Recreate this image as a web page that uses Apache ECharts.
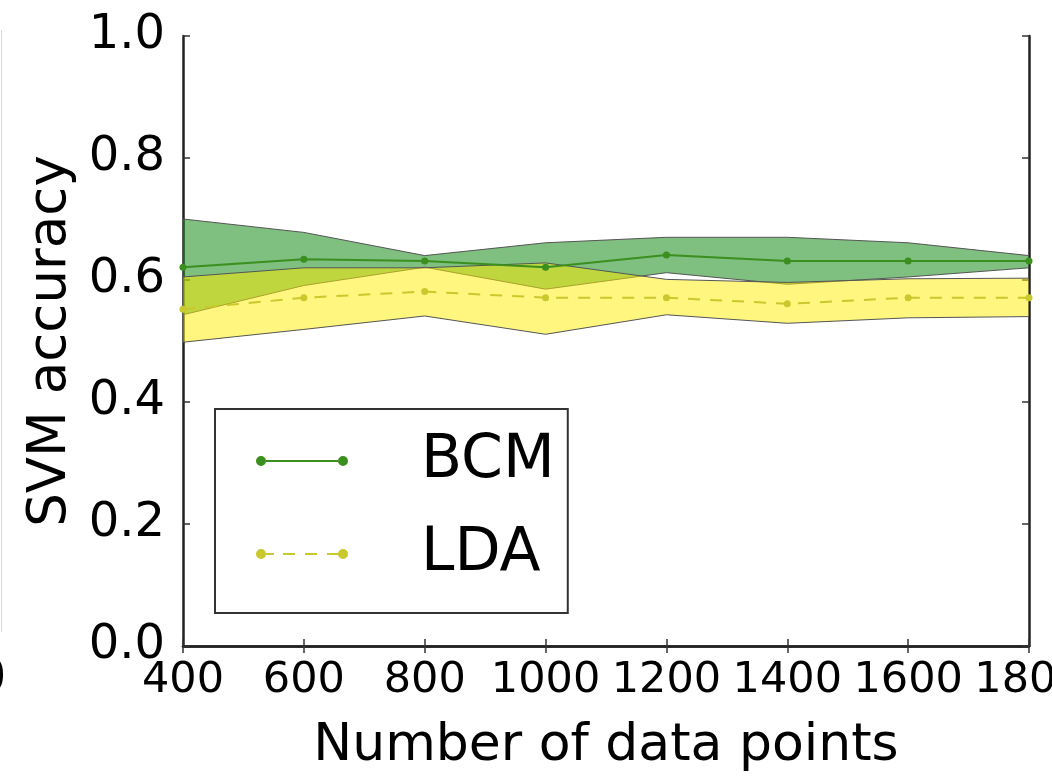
<!DOCTYPE html>
<html><head><meta charset="utf-8">
<script src="https://cdn.jsdelivr.net/npm/echarts@6/dist/echarts.min.js"></script>
<style>html,body{margin:0;padding:0;background:#fff}#c{width:1052px;height:778px}</style>
</head><body><div id="c"></div>
<script>
const xValues = [400, 600, 800, 1000, 1200, 1400, 1600, 1800];
const xTicks = [400, 600, 800, 1000, 1200, 1400, 1600, 1800];
const yTicks = [0.0, 0.2, 0.4, 0.6, 0.8, 1.0];
const bcmMean  = [0.621, 0.634, 0.631, 0.621, 0.641, 0.631, 0.631, 0.631];
const bcmUpper = [0.700, 0.678, 0.640, 0.661, 0.670, 0.670, 0.661, 0.640];
const bcmLower = [0.543, 0.591, 0.621, 0.585, 0.612, 0.593, 0.605, 0.620];
const ldaMean  = [0.552, 0.571, 0.581, 0.571, 0.571, 0.561, 0.571, 0.571];
const ldaUpper = [0.605, 0.620, 0.620, 0.628, 0.601, 0.596, 0.602, 0.603];
const ldaLower = [0.498, 0.519, 0.541, 0.511, 0.543, 0.529, 0.538, 0.540];
const seriesNames = ['BCM', 'LDA'];

const FONT = 'DejaVu Sans';
const BCM_COLOR = '#3a8f1e';
const LDA_COLOR = '#c9c82c';
const EDGE = '#555555';

const pairs = (ys) => xValues.map((x, i) => [x, ys[i]]);
const bandData = (up, lo) => xValues.map((x, i) => [x, lo[i], up[i]]);

const iconBCM = 'path://M0,5a5,5 0 1,0 10,0a5,5 0 1,0 -10,0Z M82,5a5,5 0 1,0 10,0a5,5 0 1,0 -10,0Z M10,4H82V6H10Z';
const iconLDA = 'path://M0,5a5,5 0 1,0 10,0a5,5 0 1,0 -10,0Z M82,5a5,5 0 1,0 10,0a5,5 0 1,0 -10,0Z M10,4H18V6H10Z M27,4H39V6H27Z M49,4H61V6H49Z M71,4H82V6H71Z';

function bandRenderer(fill) {
  return function (params, api) {
    if (params.dataIndex !== 0) return null;
    const n = xValues.length;
    const top = [], bottom = [];
    for (let i = 0; i < n; i++) {
      const x = api.value(0, i), lo = api.value(1, i), up = api.value(2, i);
      top.push(api.coord([x, up]));
      bottom.push(api.coord([x, lo]));
    }
    const points = top.concat(bottom.reverse());
    return {
      type: 'polygon',
      shape: {points: points},
      style: {fill: fill, stroke: EDGE, lineWidth: 1}
    };
  };
}

const chart = echarts.init(document.getElementById('c'), null, {renderer: 'canvas'});

const axisLineStyle = {color: '#222', width: 2.5};
const tickStyle = {inside: true, length: 7, lineStyle: {color: '#333', width: 1.5}};

chart.setOption({
  animation: false,
  backgroundColor: '#fff',
  grid: {left: 183, right: 23, top: 36, bottom: 132, containLabel: false, outerBoundsMode: 'none'},
  legend: {
    data: [{name: seriesNames[0], icon: iconBCM}, {name: seriesNames[1], icon: iconLDA}],
    orient: 'vertical',
    left: 215, top: 409,
    selectedMode: false,
    itemWidth: 92, itemHeight: 10,
    itemGap: 23,
    padding: [17, 13, 24, 41],
    borderColor: '#333', borderWidth: 2,
    backgroundColor: '#fff',
    itemStyle: {borderWidth: 0},
    textStyle: {fontFamily: FONT, fontSize: 60, color: '#000', lineHeight: 70, padding: [0, 0, 0, 68]}
  },
  xAxis: [{
    type: 'value', min: 400, max: 1800, interval: 200, position: 'bottom',
    axisLine: {lineStyle: axisLineStyle},
    axisTick: tickStyle,
    splitLine: {show: false},
    axisLabel: {fontFamily: FONT, fontSize: 43, color: '#000', margin: 13,
      formatter: (v) => xTicks.includes(v) ? String(v) : ''},
    name: 'Number of data points', nameLocation: 'middle', nameGap: 74,
    nameTextStyle: {fontFamily: FONT, fontSize: 52, color: '#000'}
  }, {
    type: 'value', min: 400, max: 1800, interval: 200, position: 'top',
    axisLine: {lineStyle: axisLineStyle}, axisTick: tickStyle,
    axisLabel: {show: false}, splitLine: {show: false}
  }],
  yAxis: [{
    type: 'value', min: 0, max: 1, interval: 0.2,
    axisLine: {show: true, lineStyle: axisLineStyle},
    axisTick: {show: true, ...tickStyle},
    splitLine: {show: false},
    axisLabel: {fontFamily: FONT, fontSize: 48, color: '#000', margin: 18,
      formatter: (v) => v.toFixed(1)},
    name: 'SVM accuracy', nameLocation: 'middle', nameGap: 105,
    nameTextStyle: {fontFamily: FONT, fontSize: 53, color: '#000'}
  }, {
    type: 'value', min: 0, max: 1, interval: 0.2, position: 'right',
    axisLine: {show: true, lineStyle: axisLineStyle},
    axisTick: {show: true, ...tickStyle},
    axisLabel: {show: false}, splitLine: {show: false}
  }],
  series: [
    {name: 'bcmBand', type: 'custom', data: bandData(bcmUpper, bcmLower),
      encode: {x: 0, y: [1, 2]}, renderItem: bandRenderer('rgba(0,128,0,0.5)'), silent: true, z: 1, clip: true},
    {name: 'ldaBand', type: 'custom', data: bandData(ldaUpper, ldaLower),
      encode: {x: 0, y: [1, 2]}, renderItem: bandRenderer('rgba(255,238,0,0.5)'), silent: true, z: 2, clip: true},
    {name: seriesNames[0], type: 'line', data: pairs(bcmMean), symbol: 'circle', symbolSize: 7,
      itemStyle: {color: BCM_COLOR}, lineStyle: {color: BCM_COLOR, width: 2}, z: 3},
    {name: seriesNames[1], type: 'line', data: pairs(ldaMean), symbol: 'circle', symbolSize: 7,
      itemStyle: {color: LDA_COLOR}, lineStyle: {color: LDA_COLOR, width: 2, type: [12, 10]}, z: 3}
  ],
  graphic: [
    {type: 'line', shape: {x1: 1.5, y1: 30, x2: 1.5, y2: 632}, style: {stroke: '#d8d8d8', lineWidth: 1}, silent: true},
    {type: 'text', left: -22, top: 658, style: {text: '0', font: '44px "DejaVu Sans"', fill: '#000'}, silent: true}
  ]
});
</script>
</body></html>
